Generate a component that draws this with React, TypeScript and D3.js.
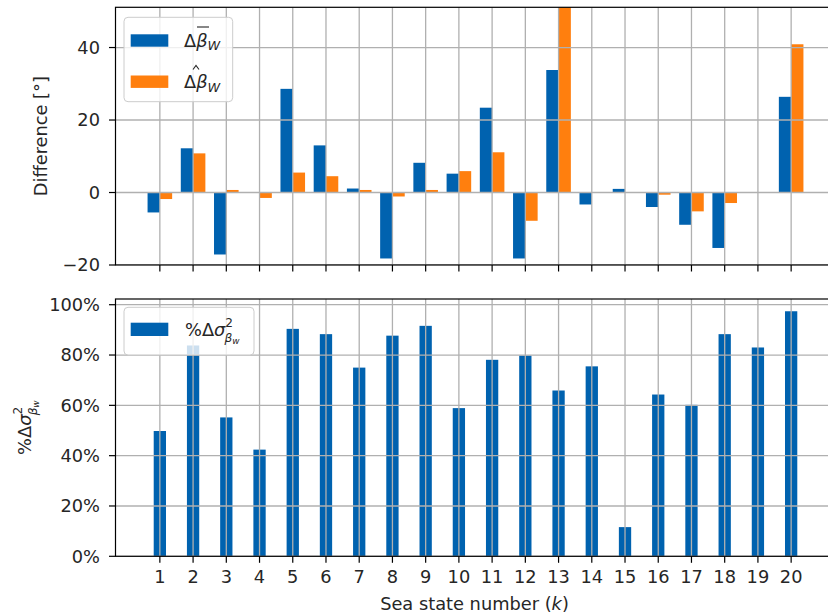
import React from "react";
import * as d3 from "d3";

const seaStates = [1, 2, 3, 4, 5, 6, 7, 8, 9, 10, 11, 12, 13, 14, 15, 16, 17, 18, 19, 20];
const meanDiff = [-5.5, 12.2, -17.1, 0, 28.6, 13.0, 1.1, -18.2, 8.2, 5.2, 23.4, -18.2, 33.8, -3.3, 1.0, -4.0, -8.9, -15.3, 0, 26.4];
const peakDiff = [-1.8, 10.8, 0.7, -1.5, 5.5, 4.5, 0.7, -1.1, 0.7, 5.9, 11.1, -7.8, 62, 0, 0, -0.6, -5.2, -2.9, 0, 40.9];
const varReduction = [49.8, 83.8, 55.2, 42.4, 90.4, 88.3, 75.0, 87.7, 91.6, 58.9, 78.1, 79.8, 65.9, 75.5, 11.6, 64.3, 60.2, 88.3, 83.0, 97.4];
const topTicks = [-20, 0, 20, 40];
const botTicks = [0, 20, 40, 60, 80, 100];

const BLUE = "#0062AF";
const ORANGE = "#FF7F0E";
const GRID = "#b0b0b0";
const FONT = "DejaVu Sans";
const FS = 17.8;

const W = 828;
const H = 616;
const L = 115.5;
const R = 835.5;
const TOP_Y0 = 7.3;
const TOP_Y1 = 265;
const BOT_Y0 = 299;
const BOT_Y1 = 556.3;
const BAR_W = 0.37;

function SigmaLabel(props: { x: number; y: number; transform?: string; anchor?: string }) {
  return (
    <text x={props.x} y={props.y} transform={props.transform} textAnchor={props.anchor || "start"} fill="#262626">
      %Δ<tspan fontStyle="italic">σ</tspan>
      <tspan fontSize={FS * 0.68} dy={-9}>2</tspan>
      <tspan fontStyle="italic" fontSize={FS * 0.68} dx={-8.5} dy={14.5}>β</tspan>
      <tspan fontStyle="italic" fontSize={FS * 0.5} dy={2.5}>w</tspan>
    </text>
  );
}

export default function App() {
  const x = d3.scaleLinear().domain([-0.335, 21.335]).range([L, R]);
  const yT = d3.scaleLinear().domain([-20, 51.1]).range([TOP_Y1, TOP_Y0]);
  const yB = d3.scaleLinear().domain([0, 102.27]).range([BOT_Y1, BOT_Y0]);
  const bw = x(BAR_W) - x(0);

  const vGrid = (y0: number, y1: number) =>
    seaStates.map((k) => (
      <line key={"vg" + k} x1={x(k)} x2={x(k)} y1={y0} y2={y1} stroke={GRID} strokeWidth={1.3} />
    ));

  const xTicks = (yy: number) =>
    seaStates.map((k) => (
      <line key={"xt" + k} x1={x(k)} x2={x(k)} y1={yy} y2={yy + 6.5} stroke="#000" strokeWidth={1.2} />
    ));

  return (
    <svg
      width={W}
      height={H}
      style={{ position: "absolute", left: 0, top: 0, background: "#fff" }}
      fontFamily={FONT}
      fontSize={FS}
    >
      <defs>
        <clipPath id="clipTop">
          <rect x={L} y={TOP_Y0} width={R - L} height={TOP_Y1 - TOP_Y0} />
        </clipPath>
        <clipPath id="clipBot">
          <rect x={L} y={BOT_Y0} width={R - L} height={BOT_Y1 - BOT_Y0} />
        </clipPath>
      </defs>
      <rect x={0} y={0} width={W} height={H} fill="#fff" />

      {/* TOP PANEL */}
      <g clipPath="url(#clipTop)">
        {seaStates.map((k, i) => {
          const v = meanDiff[i];
          return (
            <rect key={"mb" + k} x={x(k) - bw} width={bw} y={Math.min(yT(v), yT(0))} height={Math.abs(yT(v) - yT(0))} fill={BLUE} />
          );
        })}
        {seaStates.map((k, i) => {
          const v = peakDiff[i];
          return (
            <rect key={"pb" + k} x={x(k)} width={bw} y={Math.min(yT(v), yT(0))} height={Math.abs(yT(v) - yT(0))} fill={ORANGE} />
          );
        })}
        {vGrid(TOP_Y0, TOP_Y1)}
        {topTicks.map((t) => (
          <line key={"hg" + t} x1={L} x2={R} y1={yT(t)} y2={yT(t)} stroke={GRID} strokeWidth={1.3} />
        ))}
      </g>
      <rect x={L} y={TOP_Y0} width={R - L} height={TOP_Y1 - TOP_Y0} fill="none" stroke="#000" strokeWidth={1.2} />
      {xTicks(TOP_Y1)}
      {topTicks.map((t) => (
        <g key={"yt" + t}>
          <line x1={L - 6.5} x2={L} y1={yT(t)} y2={yT(t)} stroke="#000" strokeWidth={1.2} />
          <text x={100} y={yT(t)} dy="0.36em" textAnchor="end" fill="#262626">
            {t < 0 ? "\u2212" + Math.abs(t) : String(t)}
          </text>
        </g>
      ))}
      <text transform={`translate(47,${(TOP_Y0 + TOP_Y1) / 2}) rotate(-90)`} textAnchor="middle" fill="#262626">
        Difference [°]
      </text>

      {/* top legend */}
      <rect x={124} y={17.3} width={108.7} height={84.4} rx={4} fill="#fff" fillOpacity={0.8} stroke="#cccccc" strokeWidth={1} />
      <rect x={130.7} y={34.3} width={37.6} height={12.4} fill={BLUE} />
      <rect x={130.7} y={75.5} width={37.6} height={12.4} fill={ORANGE} />
      <g fill="#262626">
        <text x={184} y={46.7}>
          Δ<tspan fontStyle="italic">β</tspan>
          <tspan fontStyle="italic" fontSize={FS * 0.72} dy={3.5}>W</tspan>
        </text>
        <line x1={197} x2={209} y1={27} y2={27} stroke="#262626" strokeWidth={1.1} />
        <text x={184} y={88.3}>
          Δ<tspan fontStyle="italic">β</tspan>
          <tspan fontStyle="italic" fontSize={FS * 0.72} dy={3.5}>W</tspan>
        </text>
        <polyline points="193,69.5 196,65.5 199,69.5" fill="none" stroke="#262626" strokeWidth={1.1} />
      </g>

      {/* BOTTOM PANEL */}
      <g clipPath="url(#clipBot)">
        {seaStates.map((k, i) => {
          const v = varReduction[i];
          return (
            <rect key={"vb" + k} x={x(k) - bw / 2} width={bw} y={yB(v)} height={yB(0) - yB(v)} fill={BLUE} />
          );
        })}
        {vGrid(BOT_Y0, BOT_Y1)}
        {botTicks.map((t) => (
          <line key={"bg" + t} x1={L} x2={R} y1={yB(t)} y2={yB(t)} stroke={GRID} strokeWidth={1.3} />
        ))}
      </g>
      <rect x={L} y={BOT_Y0} width={R - L} height={BOT_Y1 - BOT_Y0} fill="none" stroke="#000" strokeWidth={1.2} />
      {xTicks(BOT_Y1)}
      {botTicks.map((t) => (
        <g key={"byt" + t}>
          <line x1={L - 6.5} x2={L} y1={yB(t)} y2={yB(t)} stroke="#000" strokeWidth={1.2} />
          <text x={100} y={yB(t)} dy="0.36em" textAnchor="end" fill="#262626">
            {t + "%"}
          </text>
        </g>
      ))}
      {seaStates.map((k) => (
        <text key={"xl" + k} x={x(k)} y={583} textAnchor="middle" fill="#262626">
          {k}
        </text>
      ))}
      <text x={(L + R) / 2 - 1} y={610} textAnchor="middle" fill="#262626">
        Sea state number (<tspan fontStyle="italic">k</tspan>)
      </text>
      <SigmaLabel x={0} y={0} anchor="middle" transform={`translate(31,${(BOT_Y0 + BOT_Y1) / 2}) rotate(-90)`} />

      {/* bottom legend */}
      <rect x={124} y={307.3} width={130} height={47.7} rx={4} fill="#fff" fillOpacity={0.8} stroke="#cccccc" strokeWidth={1} />
      <rect x={130.7} y={322.7} width={37.6} height={13.3} fill={BLUE} />
      <SigmaLabel x={185} y={336} />
    </svg>
  );
}
